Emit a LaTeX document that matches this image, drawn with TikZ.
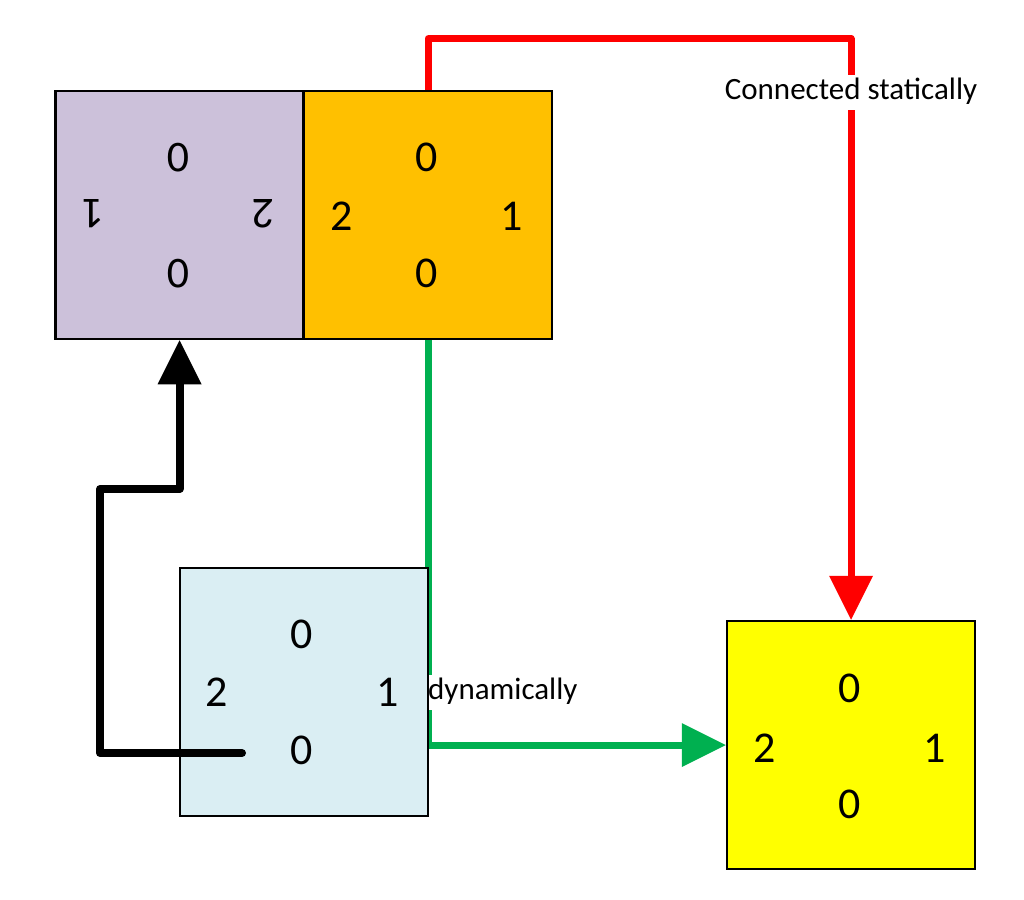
\documentclass[tikz,border=0pt]{standalone}
\usepackage{fontspec}
\setmainfont{Carlito}
\usetikzlibrary{arrows.meta}
\definecolor{purp}{HTML}{CCC1DA}
\definecolor{orng}{HTML}{FFC000}
\definecolor{lblue}{HTML}{DAEEF3}
\definecolor{yel}{HTML}{FFFF00}
\definecolor{rd}{HTML}{FF0000}
\definecolor{grn}{HTML}{00B050}
\begin{document}
\begin{tikzpicture}[x=1pt,y=-1pt,
  box/.style={draw=black,line width=2.5pt,minimum width=248pt,minimum height=248pt,inner sep=0pt},
  num/.style={font=\fontsize{44}{44}\selectfont,inner sep=0pt},
  lbl/.style={font=\fontsize{31}{31}\selectfont,fill=white,inner sep=2pt,text height=23pt,text depth=8pt},
  conn/.style={line width=7pt,line join=round},
  tip/.style={-{Triangle[width=44pt,length=44pt,line width=0pt]}}]
\useasboundingbox (0,0) rectangle (1024,899);
% box geometry (for anchors)
\path (179.5,215) node[box,draw=none] (p) {};
\path (428,215) node[box,draw=none] (o) {};
\path (304,692) node[box,draw=none] (b) {};
\path (851,745) node[box,draw=none] (y) {};
% connectors
\draw[conn,rd,tip] (o.north) -- ++(0,-51) -| (y.north);
\draw[conn,grn,tip] (o.south) |- (y.west);
% labels
\node[lbl] (ls) at (851,92) {Connected statically};
\node[lbl,anchor=west] (ld) at (426,692) {dynamically};
% boxes
\node[box,fill=purp] at (p) {};
\node[box,fill=orng] at (o) {};
\node[box,fill=lblue] at (b) {};
\node[box,fill=yel] at (y) {};
% numbers
\node[num,rotate=180] (p0t) at (178,158) {0};
\node[num,rotate=180] (p0b) at (178,274) {0};
\node[num,rotate=180] (p1) at (93,214) {1};
\node[num,rotate=180] (p2) at (263,214) {2};
\node[num] (o0t) at (427,157) {0};
\node[num] (o0b) at (427,273) {0};
\node[num] (o2) at (342,216) {2};
\node[num] (o1) at (512,216) {1};
\node[num] (b0t) at (302,634) {0};
\node[num] (b0b) at (302,750) {0};
\node[num] (b2) at (217,692) {2};
\node[num] (b1) at (388,692) {1};
\node[num] (y0t) at (850,688) {0};
\node[num] (y0b) at (850,804) {0};
\node[num] (y2) at (765,748) {2};
\node[num] (y1) at (935,748) {1};
% black connector
\coordinate (bstart) at (242,753);
\coordinate (k1) at (100,489);
\draw[conn,line width=8pt,line cap=round,black,tip] (bstart) -| (k1) -| (p.south);
\end{tikzpicture}
\end{document}
